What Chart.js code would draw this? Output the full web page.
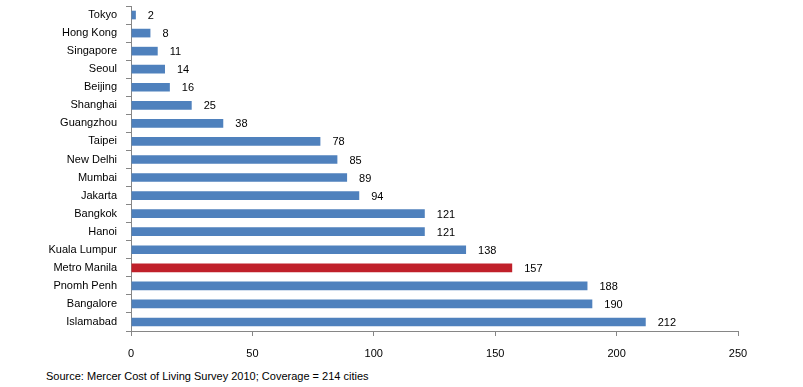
<!DOCTYPE html>
<html>
<head>
<meta charset="utf-8">
<script src="https://cdn.jsdelivr.net/npm/chart.js@4/dist/chart.umd.min.js"></script>
<style>
  html, body { margin: 0; padding: 0; background: #fff; }
  #wrap { position: relative; width: 803px; height: 387px; }
  #chart { position: absolute; left: 0; top: 0; }
  #source { position: absolute; left: 46px; top: 370px; font: 11px "Liberation Sans", Arial, sans-serif; color: #000; }
</style>
</head>
<body>
<div id="wrap">
  <canvas id="chart" width="803" height="366"></canvas>
  <div id="source">Source: Mercer Cost of Living Survey 2010; Coverage = 214 cities</div>
</div>
<script>
const cities = ['Tokyo', 'Hong Kong', 'Singapore', 'Seoul', 'Beijing', 'Shanghai', 'Guangzhou', 'Taipei',
  'New Delhi', 'Mumbai', 'Jakarta', 'Bangkok', 'Hanoi', 'Kuala Lumpur', 'Metro Manila', 'Pnomh Penh',
  'Bangalore', 'Islamabad'];
const ranks = [2, 8, 11, 14, 16, 25, 38, 78, 85, 89, 94, 121, 121, 138, 157, 188, 190, 212];
const highlight = 'Metro Manila';

const BLUE = '#4f81bd';
const RED = '#c0202a';
const AXIS = '#868686';
const FONT = '"Liberation Sans", Arial, sans-serif';

// value labels to the right of each bar
const barLabels = {
  id: 'barLabels',
  afterDatasetsDraw(chart) {
    const ctx = chart.ctx;
    const meta = chart.getDatasetMeta(0);
    ctx.save();
    ctx.font = '11px ' + FONT;
    ctx.fillStyle = '#000';
    ctx.textAlign = 'left';
    ctx.textBaseline = 'middle';
    meta.data.forEach((bar, i) => {
      ctx.fillText(String(ranks[i]), bar.x + 12, bar.y + 1);
    });
    ctx.restore();
  }
};

new Chart(document.getElementById('chart'), {
  type: 'bar',
  data: {
    labels: cities,
    datasets: [{
      data: ranks,
      backgroundColor: cities.map(c => c === highlight ? RED : BLUE),
      barPercentage: 0.48,
      categoryPercentage: 1,
    }],
  },
  options: {
    indexAxis: 'y',
    responsive: false,
    animation: false,
    layout: { padding: { top: 6, right: 65, left: 0, bottom: 0 } },
    plugins: { legend: { display: false }, tooltip: { enabled: false } },
    scales: {
      x: {
        min: 0, max: 250,
        ticks: { stepSize: 50, color: '#000', font: { family: FONT, size: 11 }, padding: 11 },
        grid: { drawOnChartArea: false, drawTicks: true, tickLength: 5, color: AXIS },
        border: { color: AXIS },
        afterFit(scale) { scale.height = 35; scale.paddingLeft = 0; scale.paddingRight = 0; },
      },
      y: {
        ticks: { color: '#000', font: { family: FONT, size: 11 }, padding: 9 },
        grid: { drawOnChartArea: false, drawTicks: true, tickLength: 5, color: AXIS, offset: true },
        border: { color: AXIS },
        afterFit(scale) { scale.width = 131; scale.paddingTop = 0; scale.paddingBottom = 0; },
      },
    },
  },
  plugins: [barLabels],
});
</script>
</body>
</html>
